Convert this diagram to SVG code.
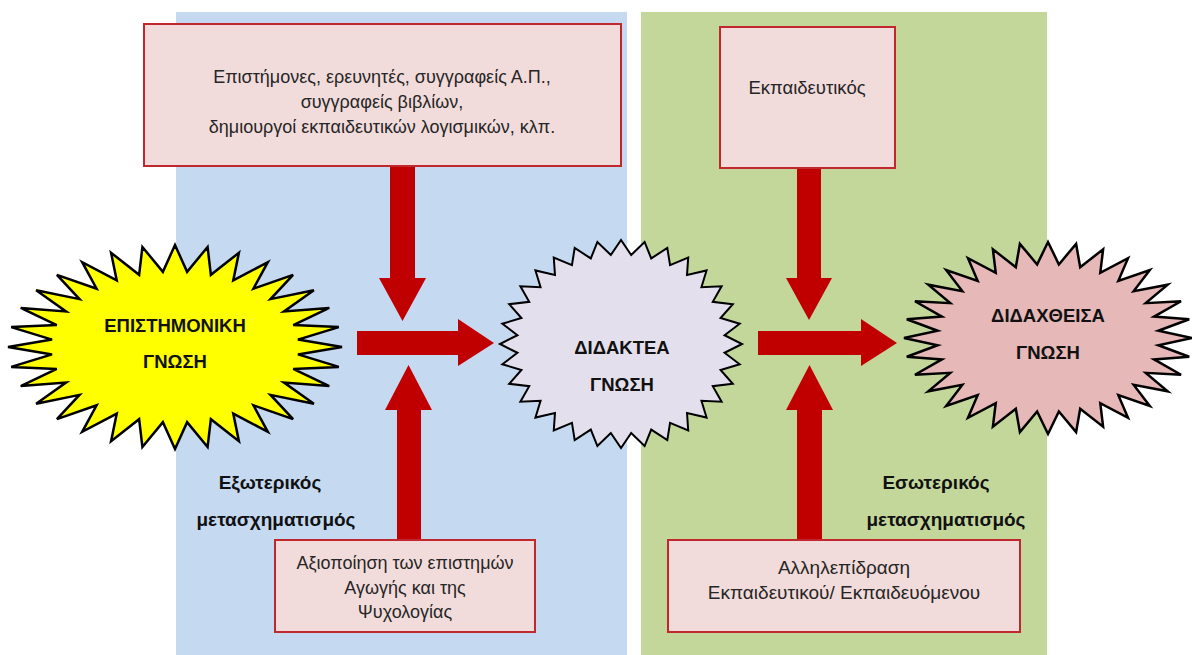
<svg xmlns="http://www.w3.org/2000/svg" width="1192" height="655" viewBox="0 0 1192 655">
<style>
.box{fill:#F2DCDB;stroke:#C0282D;stroke-width:2}
.arrow{fill:#C00000}
.burst{stroke:#000;stroke-width:2.5;stroke-linejoin:miter}
.t{font-family:"Liberation Sans",Arial,sans-serif;fill:#262626;text-anchor:middle}
.b{font-family:"Liberation Sans",Arial,sans-serif;font-weight:bold;fill:#111;text-anchor:middle}
</style>
<rect width="1192" height="655" fill="#FFFFFF"/>
<g id="panels">
<rect x="176" y="12" width="451" height="643" fill="#C5D9F1"/>
<rect x="641" y="12" width="406" height="643" fill="#C4D79B"/>
</g>
<g id="connectors">
<polygon class="arrow" points="390,166 415,166 415,278 426,278 402.5,321 379,278 390,278"/>
<polygon class="arrow" points="357,331 458,331 458,319 494,343 458,366 458,355 357,355"/>
<polygon class="arrow" points="397,540 421,540 421,410 432,410 408.5,365 385,410 397,410"/>
<polygon class="arrow" points="797,168 821,168 821,278 832,278 809,320 786,278 797,278"/>
<polygon class="arrow" points="758,331 861,331 861,319 897,343 861,366 861,355 758,355"/>
<polygon class="arrow" points="797,540 822,540 822,410 833,410 809.5,365 786,410 797,410"/>
</g>
<g id="node-epistimoniki">
<polygon class="burst" fill="#FFFF00" vector-effect="non-scaling-stroke" transform="translate(175,347) scale(167,102)" points="1,0 .7364,.0725 .9808,.1951 .7081,.2148 .9239,.3827 .6526,.3488 .8315,.5556 .5720,.4695 .7071,.7071 .4695,.5720 .5556,.8315 .3488,.6526 .3827,.9239 .2148,.7081 .1951,.9808 .0725,.7364 0,1 -.0725,.7364 -.1951,.9808 -.2148,.7081 -.3827,.9239 -.3488,.6526 -.5556,.8315 -.4695,.5720 -.7071,.7071 -.5720,.4695 -.8315,.5556 -.6526,.3488 -.9239,.3827 -.7081,.2148 -.9808,.1951 -.7364,.0725 -1,0 -.7364,-.0725 -.9808,-.1951 -.7081,-.2148 -.9239,-.3827 -.6526,-.3488 -.8315,-.5556 -.5720,-.4695 -.7071,-.7071 -.4695,-.5720 -.5556,-.8315 -.3488,-.6526 -.3827,-.9239 -.2148,-.7081 -.1951,-.9808 -.0725,-.7364 0,-1 .0725,-.7364 .1951,-.9808 .2148,-.7081 .3827,-.9239 .3488,-.6526 .5556,-.8315 .4695,-.5720 .7071,-.7071 .5720,-.4695 .8315,-.5556 .6526,-.3488 .9239,-.3827 .7081,-.2148 .9808,-.1951 .7364,-.0725"/>
<text class="b" x="175" y="332" font-size="18.5">ΕΠΙΣΤΗΜΟΝΙΚΗ</text>
<text class="b" x="175" y="368" font-size="18.5">ΓΝΩΣΗ</text>
</g>
<g id="node-didaktea">
<polygon class="burst" fill="#E4DFEC" style="stroke-width:2" vector-effect="non-scaling-stroke" transform="translate(621,344) scale(121,104)" points="1,0 .8559,.0843 .9808,.1951 .8229,.2497 .9239,.3827 .7584,.4054 .8315,.5556 .6648,.5456 .7071,.7071 .5456,.6648 .5556,.8315 .4054,.7584 .3827,.9239 .2497,.8229 .1951,.9808 .0843,.8559 0,1 -.0843,.8559 -.1951,.9808 -.2497,.8229 -.3827,.9239 -.4054,.7584 -.5556,.8315 -.5456,.6648 -.7071,.7071 -.6648,.5456 -.8315,.5556 -.7584,.4054 -.9239,.3827 -.8229,.2497 -.9808,.1951 -.8559,.0843 -1,0 -.8559,-.0843 -.9808,-.1951 -.8229,-.2497 -.9239,-.3827 -.7584,-.4054 -.8315,-.5556 -.6648,-.5456 -.7071,-.7071 -.5456,-.6648 -.5556,-.8315 -.4054,-.7584 -.3827,-.9239 -.2497,-.8229 -.1951,-.9808 -.0843,-.8559 0,-1 .0843,-.8559 .1951,-.9808 .2497,-.8229 .3827,-.9239 .4054,-.7584 .5556,-.8315 .5456,-.6648 .7071,-.7071 .6648,-.5456 .8315,-.5556 .7584,-.4054 .9239,-.3827 .8229,-.2497 .9808,-.1951 .8559,-.0843"/>
<text class="b" x="622" y="354" font-size="18.5">ΔΙΔΑΚΤΕΑ</text>
<text class="b" x="622" y="391" font-size="18.5">ΓΝΩΣΗ</text>
</g>
<g id="node-didachtheisa">
<polygon class="burst" fill="#E6B8B7" vector-effect="non-scaling-stroke" transform="translate(1048,338) scale(144,96)" points="1,0 .7663,.0755 .9808,.1951 .7368,.2235 .9239,.3827 .6791,.3630 .8315,.5556 .5952,.4885 .7071,.7071 .4885,.5952 .5556,.8315 .3630,.6791 .3827,.9239 .2235,.7368 .1951,.9808 .0755,.7663 0,1 -.0755,.7663 -.1951,.9808 -.2235,.7368 -.3827,.9239 -.3630,.6791 -.5556,.8315 -.4885,.5952 -.7071,.7071 -.5952,.4885 -.8315,.5556 -.6791,.3630 -.9239,.3827 -.7368,.2235 -.9808,.1951 -.7663,.0755 -1,0 -.7663,-.0755 -.9808,-.1951 -.7368,-.2235 -.9239,-.3827 -.6791,-.3630 -.8315,-.5556 -.5952,-.4885 -.7071,-.7071 -.4885,-.5952 -.5556,-.8315 -.3630,-.6791 -.3827,-.9239 -.2235,-.7368 -.1951,-.9808 -.0755,-.7663 0,-1 .0755,-.7663 .1951,-.9808 .2235,-.7368 .3827,-.9239 .3630,-.6791 .5556,-.8315 .4885,-.5952 .7071,-.7071 .5952,-.4885 .8315,-.5556 .6791,-.3630 .9239,-.3827 .7368,-.2235 .9808,-.1951 .7663,-.0755"/>
<text class="b" x="1048" y="322" font-size="18.5">ΔΙΔΑΧΘΕΙΣΑ</text>
<text class="b" x="1048" y="359" font-size="18.5">ΓΝΩΣΗ</text>
</g>
<g id="node-scientists">
<rect class="box" x="144" y="24" width="477" height="142"/>
<text class="t" x="382" y="83" font-size="18">Επιστήμονες, ερευνητές, συγγραφείς Α.Π.,</text>
<text class="t" x="382" y="108" font-size="18">συγγραφείς βιβλίων,</text>
<text class="t" x="382" y="133" font-size="18">δημιουργοί εκπαιδευτικών λογισμικών, κλπ.</text>
</g>
<g id="node-teacher">
<rect class="box" x="720" y="27" width="175" height="141"/>
<text class="t" x="807" y="94" font-size="18.5">Εκπαιδευτικός</text>
</g>
<g id="node-sciences">
<rect class="box" x="275" y="540" width="260" height="92"/>
<text class="t" x="405" y="569" font-size="18">Αξιοποίηση των επιστημών</text>
<text class="t" x="405" y="594" font-size="18">Αγωγής και της</text>
<text class="t" x="405" y="618" font-size="18">Ψυχολογίας</text>
</g>
<g id="node-interaction">
<rect class="box" x="668" y="540" width="352" height="92"/>
<text class="t" x="844" y="574" font-size="19">Αλληλεπίδραση</text>
<text class="t" x="844" y="599" font-size="19">Εκπαιδευτικού/ Εκπαιδευόμενου</text>
</g>
<g id="label-external">
<text class="b" x="270" y="489" font-size="19">Εξωτερικός</text>
<text class="b" x="276" y="526" font-size="19">μετασχηματισμός</text>
</g>
<g id="label-internal">
<text class="b" x="936" y="489" font-size="19">Εσωτερικός</text>
<text class="b" x="946" y="526" font-size="19">μετασχηματισμός</text>
</g>
</svg>
